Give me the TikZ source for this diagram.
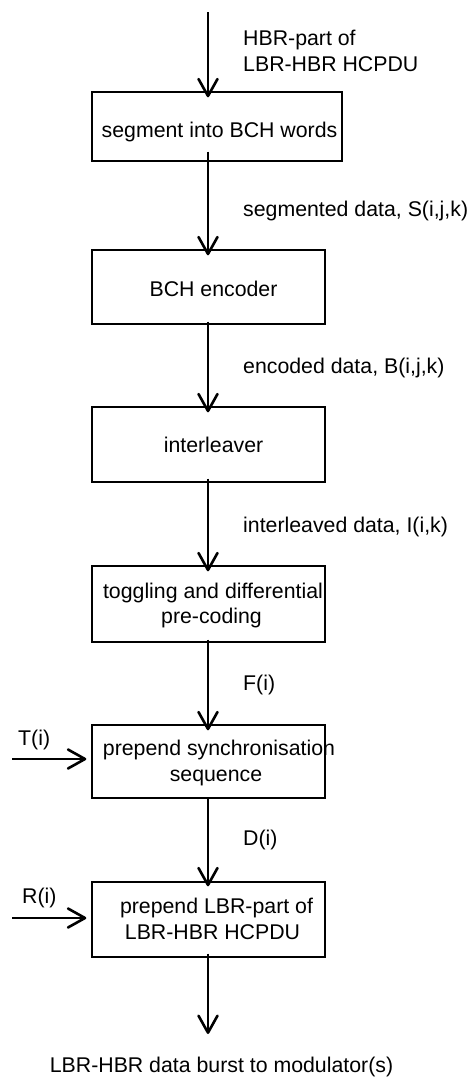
\documentclass[tikz,border=0pt]{standalone}
\usepackage{fontspec}
\setmainfont{Liberation Sans}
\usetikzlibrary{arrows.meta}
\begin{document}
\begin{tikzpicture}[x=1pt,y=-1pt,
  blk/.style={draw, line width=1.4pt, rectangle, inner sep=0pt},
  txt/.style={font=\fontsize{21.3}{25.5}\selectfont, inner sep=0pt, anchor=base},
  lbl/.style={font=\fontsize{21.3}{25.5}\selectfont, inner sep=0pt, anchor=base west},
  flow/.style={line width=1.4pt, -{Straight Barb[length=17pt 0 0,width=19pt 0 0,line width=2.6pt,round]}}]
\useasboundingbox (0,0) rectangle (469,1077);
% boxes
\node[blk, minimum width=250pt, minimum height=69pt] (b1) at (217,126.5) {};
\node[blk, minimum width=233pt, minimum height=74pt] (b2) at (208.5,287) {};
\node[blk, minimum width=233pt, minimum height=75pt] (b3) at (208.5,444.5) {};
\node[blk, minimum width=233pt, minimum height=76pt] (b4) at (208.5,604) {};
\node[blk, minimum width=233pt, minimum height=73pt] (b5) at (208.5,761.5) {};
\node[blk, minimum width=233pt, minimum height=75pt] (b6) at (208.5,919.5) {};
% box texts
\node[txt] (t1) at (219.5,137) {segment into BCH words};
\node[txt] (t2) at (213.5,296) {BCH encoder};
\node[txt] (t3) at (213.5,452) {interleaver};
\node[txt] (t4a) at (213,598) {toggling and differential};
\node[txt] (t4b) at (211.5,623) {pre-coding};
\node[txt] (t5a) at (219,755) {prepend synchronisation};
\node[txt] (t5b) at (216,781) {sequence};
\node[txt] (t6a) at (216.5,913) {prepend LBR-part of};
\node[txt] (t6b) at (212.5,939) {LBR-HBR HCPDU};
% in/out points
\coordinate (in0) at (208,12);
\coordinate (out7) at (208,1034);
\coordinate (tin) at (12,759);
\coordinate (rin) at (12,918);
% connectors
\draw[flow] (in0) -- ([yshift=-6pt]b1.north -| in0);
\draw[flow] ([yshift=10pt]b1.south -| in0) -- ([yshift=-6pt]b2.north -| in0);
\draw[flow] ([yshift=3pt]b2.south -| in0) -- ([yshift=-6pt]b3.north -| in0);
\draw[flow] ([yshift=4pt]b3.south -| in0) -- ([yshift=-6pt]b4.north -| in0);
\draw[flow] ([yshift=3pt]b4.south -| in0) -- ([yshift=-6pt]b5.north -| in0);
\draw[flow] (b5.south -| in0) -- ([yshift=-5pt]b6.north -| in0);
\draw[flow] ([yshift=4pt]b6.south -| in0) -- (out7);
\draw[flow] (tin) -- ([xshift=-5pt]b5.west |- tin);
\draw[flow] (rin) -- ([xshift=-5pt]b6.west |- rin);
% labels
\node[lbl, align=left, anchor=north west] (l0) at (243,30) {HBR-part of\\LBR-HBR HCPDU};
\node[lbl] (l1) at (243,216) {segmented data, S(i,j,k)};
\node[lbl] (l2) at (243,373) {encoded data, B(i,j,k)};
\node[lbl] (l3) at (243,532) {interleaved data, I(i,k)};
\node[lbl] (l4) at (243,690) {F(i)};
\node[lbl] (lt) at (18,745) {T(i)};
\node[lbl] (l5) at (243,845) {D(i)};
\node[lbl] (lr) at (22,903) {R(i)};
\node[txt] (lout) at (221.5,1072) {LBR-HBR data burst to modulator(s)};
\end{tikzpicture}
\end{document}
